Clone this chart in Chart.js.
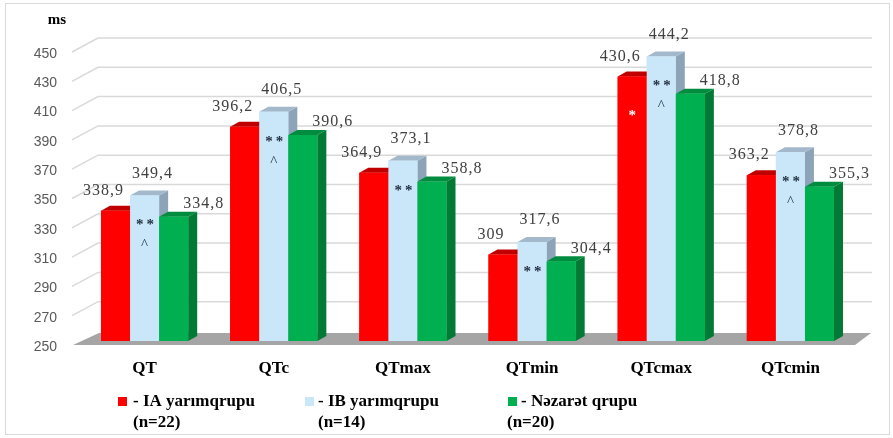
<!DOCTYPE html>
<html lang="az">
<head>
    <meta charset="UTF-8">
    <title>QT</title>
    <style>
        body { margin: 0; background: #fff; }
        #wrap { width: 893px; height: 438px; }
    </style>
</head>
<body>
<div id="wrap">
    <canvas id="myChart"></canvas>
</div>

<script src="https://cdn.jsdelivr.net/npm/chart.js"></script>

<script>
    const categories = ['QT', 'QTc', 'QTmax', 'QTmin', 'QTcmax', 'QTcmin'];
    const iaValues = [338.9, 396.2, 364.9, 309, 430.6, 363.2];
    const ibValues = [349.4, 406.5, 373.1, 317.6, 444.2, 378.8];
    const controlValues = [334.8, 390.6, 358.8, 304.4, 418.8, 355.3];
    const seriesNames = ['IA yarımqrupu', 'IB yarımqrupu', 'Nəzarət qrupu'];
    const seriesCounts = ['(n=22)', '(n=14)', '(n=20)'];
    const yMin = 250, yMax = 450, yStep = 20;
    // significance marks printed inside the bars
    const iaMarks = ['', '', '', '', '*', ''];
    const ibStars = ['**', '**', '**', '**', '**', '**'];
    const ibCarets = ['^', '^', '', '', '^', '^'];

    const fronts = ['#ff0000', '#c9e7f9', '#00b050'];
    const tops = ['#c00000', '#a3b8cb', '#008c3e'];
    const sides = ['#b00000', '#8ca3b8', '#007a35'];
    const labelShift = [[-12, -20], [8, -22], [30, -13]];

    const fmt = v => String(v).replace('.', ',');

    const threeD = {
        id: 'threeD',
        beforeDatasetsDraw(chart) {
            const c = chart.ctx, a = chart.chartArea, ys = chart.scales.y;
            c.save();
            c.strokeStyle = '#d9d9d9';
            c.lineWidth = 1.5;
            for (let v = yMin + yStep; v <= yMax; v += yStep) {
                const y = ys.getPixelForValue(v);
                c.beginPath();
                c.moveTo(a.left - 8, y + 4);
                c.lineTo(a.left + 18, y - 10);
                c.lineTo(a.right + 17, y - 10);
                c.stroke();
            }
            c.fillStyle = '#a5a5a5';
            c.beginPath();
            c.moveTo(a.left - 7, a.bottom + 4);
            c.lineTo(a.right, a.bottom + 4);
            c.lineTo(a.right + 16, a.bottom - 8);
            c.lineTo(a.left + 19, a.bottom - 8);
            c.closePath();
            c.fill();
            c.restore();
        },
        afterDatasetsDraw(chart) {
            const c = chart.ctx, a = chart.chartArea;
            const dx = 9, dy = -5;
            c.save();
            for (let i = 0; i < categories.length; i++) {
                for (let d = 0; d < 3; d++) {
                    const b = chart.getDatasetMeta(d).data[i];
                    const base = Math.min(b.base, a.bottom);
                    const l = b.x - b.width / 2, r = b.x + b.width / 2;
                    c.fillStyle = sides[d];
                    c.beginPath();
                    c.moveTo(r, b.y); c.lineTo(r + dx, b.y + dy);
                    c.lineTo(r + dx, base + dy); c.lineTo(r, base);
                    c.closePath(); c.fill();
                    c.fillStyle = tops[d];
                    c.beginPath();
                    c.moveTo(l, b.y); c.lineTo(l + dx, b.y + dy);
                    c.lineTo(r + dx, b.y + dy); c.lineTo(r, b.y);
                    c.closePath(); c.fill();
                    c.fillStyle = fronts[d];
                    c.fillRect(l, b.y, r - l, base - b.y);
                }
            }
            // value labels
            c.font = '16px "Liberation Serif"';
            c.letterSpacing = '1px';
            c.fillStyle = '#404040';
            c.textAlign = 'center';
            c.textBaseline = 'middle';
            chart.data.datasets.forEach((ds, d) => {
                chart.getDatasetMeta(d).data.forEach((b, i) => {
                    c.fillText(fmt(ds.data[i]), b.x + labelShift[d][0], b.y + labelShift[d][1]);
                });
            });
            // significance marks
            const ia = chart.getDatasetMeta(0).data, ib = chart.getDatasetMeta(1).data;
            for (let i = 0; i < categories.length; i++) {
                c.fillStyle = '#1f2d3d';
                c.letterSpacing = '3px';
                c.font = 'bold 15px "Liberation Serif"';
                c.fillText(ibStars[i], ib[i].x + 2, ib[i].y + 30);
                c.letterSpacing = '0px';
                c.font = '15px "Liberation Serif"';
                c.fillText(ibCarets[i], ib[i].x, ib[i].y + 50);
                c.fillStyle = '#ffffff';
                c.font = 'bold 15px "Liberation Serif"';
                c.fillText(iaMarks[i], ia[i].x, ia[i].y + 40);
            }
            c.restore();
        },
        afterDraw(chart) {
            const c = chart.ctx;
            c.save();
            c.strokeStyle = '#d9d9d9';
            c.lineWidth = 1;
            c.strokeRect(5.5, 3.5, 884, 431);
            c.fillStyle = '#000';
            c.font = 'bold 15px "Liberation Serif"';
            c.textAlign = 'center';
            c.textBaseline = 'middle';
            c.fillText('ms', 57, 20);
            // legend
            const sq = [118, 305, 508];
            const tx = [133, 318, 521];
            const tx2 = [133, 318, 507];
            c.textAlign = 'left';
            c.font = 'bold 17px "Liberation Serif"';
            for (let k = 0; k < 3; k++) {
                c.fillStyle = fronts[k];
                c.fillRect(sq[k], 397, 9, 9);
                c.fillStyle = '#000';
                c.fillText('- ' + seriesNames[k], tx[k], 402);
                c.fillText(seriesCounts[k], tx2[k], 423);
            }
            c.restore();
        }
    };

    const ctx = document.getElementById('myChart');

    new Chart(ctx, {
        type: 'bar',
        data: {
            labels: categories,
            datasets: [
                { label: seriesNames[0], data: iaValues, backgroundColor: fronts[0] },
                { label: seriesNames[1], data: ibValues, backgroundColor: fronts[1] },
                { label: seriesNames[2], data: controlValues, backgroundColor: fronts[2] }
            ]
        },
        options: {
            responsive: true,
            maintainAspectRatio: false,
            animation: false,
            layout: { padding: { top: 48, right: 38, bottom: 0, left: 0 } },
            datasets: { bar: { categoryPercentage: 0.675, barPercentage: 1.0 } },
            plugins: { legend: { display: false }, tooltip: { enabled: false } },
            scales: {
                x: {
                    grid: { display: false, drawTicks: false },
                    border: { display: false },
                    ticks: { color: '#000', padding: 17, font: { family: 'Liberation Serif', size: 17, weight: 'bold' } },
                    afterFit: s => { s.height = 97; }
                },
                y: {
                    min: yMin,
                    max: yMax,
                    grid: { display: false, drawTicks: false },
                    border: { display: false },
                    ticks: { stepSize: yStep, padding: 23, labelOffset: 6, color: '#595959', font: { family: 'Liberation Sans', size: 14 } },
                    afterFit: s => { s.width = 80; }
                }
            }
        },
        plugins: [threeD]
    });
</script>

</body>
</html>
